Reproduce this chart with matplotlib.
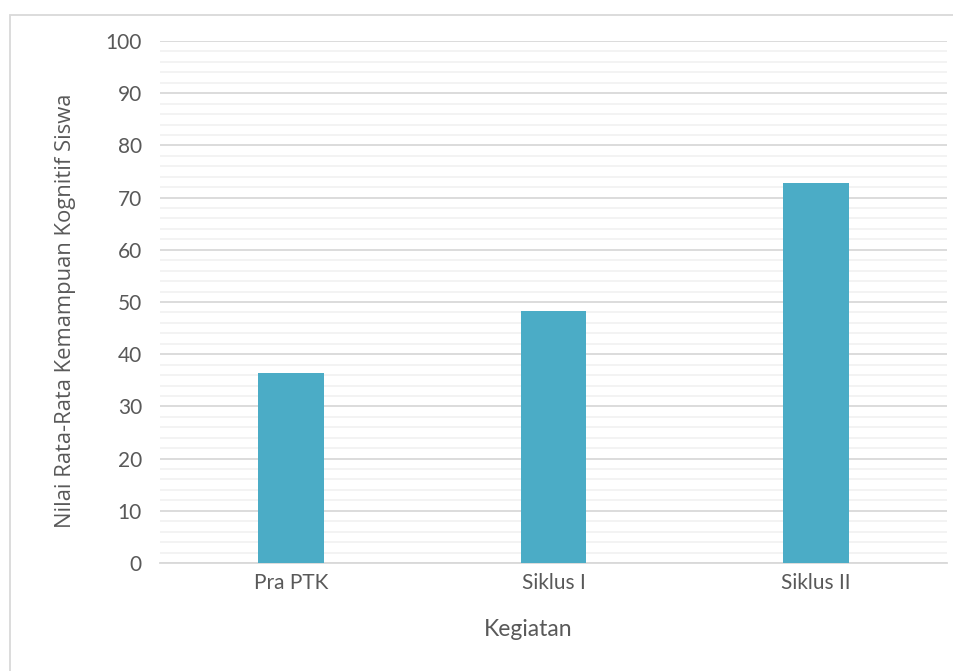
import numpy as np
import matplotlib.pyplot as plt
from matplotlib.patches import Rectangle

plt.rcParams['font.family'] = ['Lato', 'DejaVu Sans']

categories = ['Pra PTK', 'Siklus I', 'Siklus II']
values = [36.4, 48.3, 72.8]

text_col = '#595959'
bar_col = '#4BACC6'

fig = plt.figure(figsize=(9.54, 6.71), dpi=100)
ax = fig.add_axes([160/954, 1-563/671, 787/954, 522/671])

x = np.arange(len(categories))
ax.bar(x, values, width=0.25, color=bar_col, zorder=3)

ax.set_xlim(-0.5, 2.5)
ax.set_ylim(0, 100)
ax.set_yticks(np.arange(0, 101, 10))
ax.set_yticks(np.arange(0, 101, 2), minor=True)
ax.set_xticks(x)
ax.set_xticklabels(categories)
ax.grid(axis='y', which='major', color='#d9d9d9', linewidth=1.3, zorder=0)
ax.grid(axis='y', which='minor', color='#f2f2f2', linewidth=1.3, zorder=0)
ax.tick_params(axis='both', which='both', length=0, labelsize=15, colors=text_col)
ax.tick_params(axis='y', pad=13)
ax.tick_params(axis='x', pad=7)
for s in ['top', 'right', 'left']:
    ax.spines[s].set_visible(False)
ax.spines['bottom'].set_color('#d9d9d9')
ax.spines['bottom'].set_linewidth(1.3)

ax.set_xlabel('Kegiatan', fontsize=16.5, color=text_col, va='center')
ax.xaxis.set_label_coords((528-160)/787, (563-630)/522)
ax.set_ylabel('Nilai Rata-Rata Kemampuan Kognitif Siswa', fontsize=15.8,
              color=text_col, va='center', family=['Open Sans', 'DejaVu Sans'])
ax.yaxis.set_label_coords((65-160)/787, (563-311)/522)

# chart area frame
fig.patches.append(Rectangle((10/954, -0.1), 1.0, 1 - 15/671 + 0.1,
                             transform=fig.transFigure, fill=False,
                             edgecolor='#d9d9d9', linewidth=1.3))

fig.savefig('out.png', dpi=100)
